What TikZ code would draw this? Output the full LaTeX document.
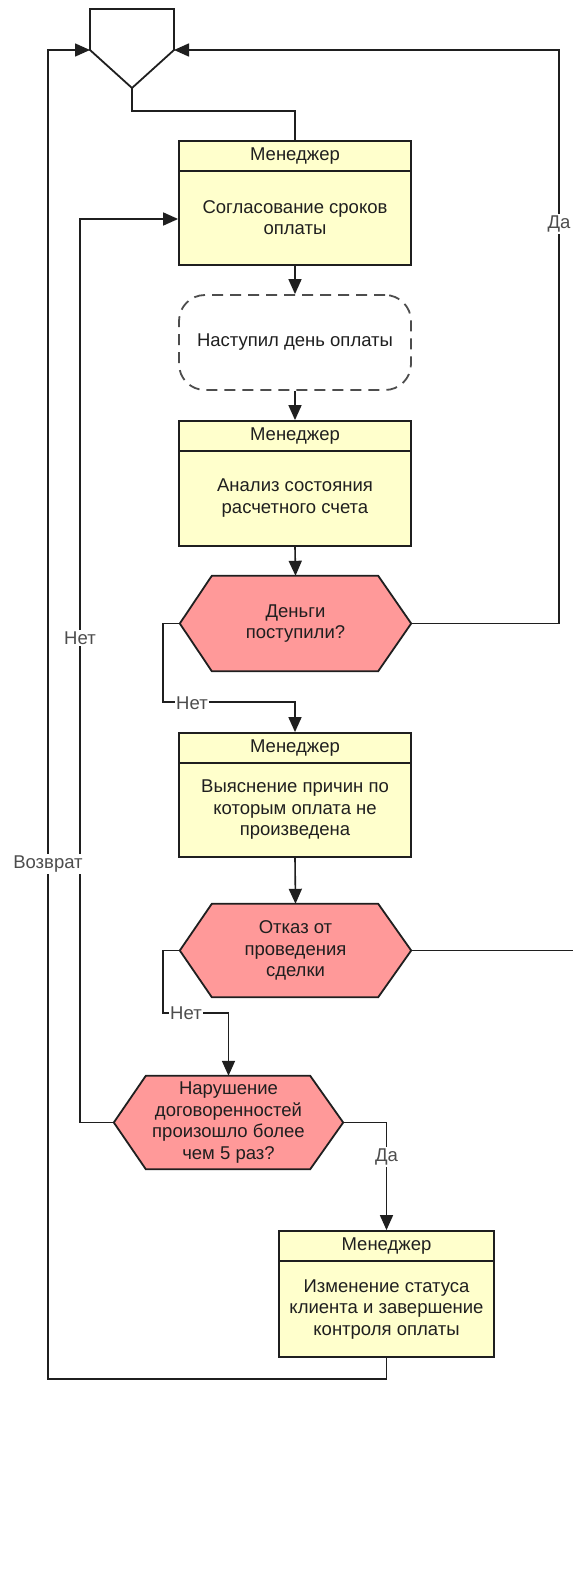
\documentclass[tikz,border=0pt]{standalone}
\usepackage{fontspec}
\setmainfont{Liberation Sans}
\usetikzlibrary{arrows.meta,calc,backgrounds}
\definecolor{procfill}{HTML}{FFFFCC}
\definecolor{decfill}{HTML}{FF9999}
\definecolor{ink}{HTML}{1F1F1F}
\definecolor{lbl}{HTML}{4D4D4D}

\begin{document}
\begin{tikzpicture}[x=1pt,y=-1pt,
  txt/.style={font=\fontsize{18.5}{21.5}\selectfont, text=ink, align=center, inner sep=0pt},
  procbox/.style={draw=ink, line width=1.8pt, fill=procfill, inner sep=0pt},
  evtbox/.style={txt, draw=lbl, line width=1.8pt, dash pattern=on 11pt off 7pt,
                 rounded corners=26pt, fill=white},
  hexnode/.style={txt},
  hexshape/.style={draw=ink, line width=1.8pt, fill=decfill},
  conn/.style={draw=ink, line width=1.6pt},
  arr/.style={conn, -{Triangle[length=15pt,width=13pt]}},
  lab/.style={txt, text=lbl, fill=white, inner sep=1.5pt}
]
\useasboundingbox (0,0) rectangle (573,1573);

% merge symbol at the top
\coordinate (mL) at (90,50);
\coordinate (mR) at (174,50);
\coordinate (mA) at (132,88);
\draw[conn, line width=1.8pt, fill=white] (90,9) -- (174,9) -- (mR) -- (mA) -- (mL) -- cycle;

% process boxes: frame, header line, role, task
\node[procbox, minimum width=232pt, minimum height=124pt] (b1) at (295,203) {};
\node[procbox, minimum width=232pt, minimum height=125pt] (b2) at (295,483.5) {};
\node[procbox, minimum width=232pt, minimum height=124pt] (b3) at (295,795) {};
\node[procbox, minimum width=215pt, minimum height=126pt] (b4) at (386.5,1294) {};
\foreach \b in {b1,b2,b3,b4} {
  \draw[conn, line width=1.8pt] ($(\b.north west)+(0,31)$) -- ($(\b.north east)+(0,31)$);
  \node[txt] (\b h) at ($(\b.north)+(0,15.5)$) {Менеджер};
}
\node[txt] (b1t) at ($(b1.north)+(0,77.5)$) {Согласование сроков\\оплаты};
\node[txt] (b2t) at ($(b2.north)+(0,78)$) {Анализ состояния\\расчетного счета};
\node[txt] (b3t) at ($(b3.north)+(0,77.5)$) {Выяснение причин по\\которым оплата не\\произведена};
\node[txt] (b4t) at ($(b4.north)+(0,79)$) {Изменение статуса\\клиента и завершение\\контроля оплаты};

% event
\node[evtbox, minimum width=232pt, minimum height=95pt] (e1) at (295,342.5) {Наступил день оплаты};

% decisions
\node[hexnode, minimum width=231pt, minimum height=95pt] (h1) at (295.5,623.5) {Деньги\\поступили?};
\node[hexnode, minimum width=231pt, minimum height=93pt] (h2) at (295.5,950.5) {Отказ от\\проведения\\сделки};
\node[hexnode, minimum width=229pt, minimum height=93pt] (h3) at (228.5,1122.5) {Нарушение\\договоренностей\\произошло более\\чем 5 раз?};
\begin{scope}[on background layer]
\foreach \h in {h1,h2,h3}
  \path[hexshape] (\h.west) -- ($(\h.north west)+(32,0)$) -- ($(\h.north east)+(-33,0)$)
    -- (\h.east) -- ($(\h.south east)+(-33,0)$) -- ($(\h.south west)+(32,0)$) -- cycle;
\end{scope}

% free end and corner points of the loops
\coordinate (rTop) at (559,50);
\coordinate (hEnd) at (573,950.5);
\coordinate (lBot) at (48,1379);
\coordinate (lTop) at (48,50);

% connectors
\draw[conn] (mA) -- ++(0,23) -| (b1.north);
\draw[arr] (b1.south) -- (e1.north);
\draw[arr] (e1.south) -- (b2.north);
\draw[arr] (b2.south) -- (h1.north);
\draw[arr] (h1.east) -| (rTop) -- (mR);
\draw[arr] (h1.west) -- ++(-17,0) |- ($(b3.north)+(0,-30)$) -- (b3.north);
\draw[arr] (b3.south) -- (h2.north);
\draw[conn] (h2.east) -- (hEnd);
\draw[arr] (h2.west) -- ++(-17,0) |- ($(h3.north)+(0,-63)$) -- (h3.north);
\draw[arr] (h3.west) -- ++(-34,0) |- ($(b1.west)+(0,16)$);
\draw[arr] (h3.east) -| (b4.north);
\draw[arr] (b4.south) |- (lBot) -- (lTop) -- (mL);

% branch labels
\node[lab] (yes1) at (559,224) {Да};
\node[lab] (no1) at (192,703) {Нет};
\node[lab] (no2) at (186,1013) {Нет};
\node[lab] (no3) at (80,638) {Нет};
\node[lab] (yes2) at (386.5,1157) {Да};
\node[lab] (back) at (48,864) {Возврат};
\end{tikzpicture}
\end{document}
